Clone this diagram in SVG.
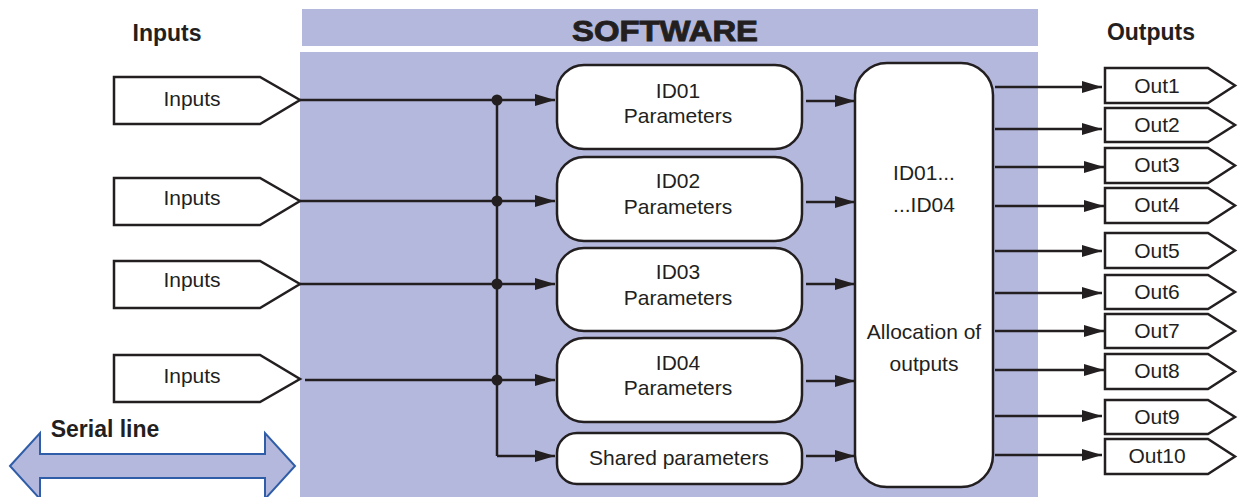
<svg xmlns="http://www.w3.org/2000/svg" width="1238" height="497" viewBox="0 0 1238 497">
<style>
.bg{fill:#b4b8dc}
.box{fill:#fff;stroke:#231f20;stroke-width:2.5}
.ln{fill:none;stroke:#231f20;stroke-width:2.5}
.t{font-family:"Liberation Sans",Arial,sans-serif;font-size:21px;fill:#231f20;text-anchor:middle}
.h{font-family:"Liberation Sans",Arial,sans-serif;font-size:23px;font-weight:bold;fill:#231f20;text-anchor:middle}
.dot{fill:#231f20}
</style>
<defs>
<marker id="ah" markerUnits="userSpaceOnUse" markerWidth="20" markerHeight="12" refX="20" refY="6" orient="auto">
<path d="M0,0 L20,6 L0,12 z" fill="#231f20"/>
</marker>
</defs>
<g id="background">
<rect class="bg" x="302" y="9" width="736" height="37"/>
<rect class="bg" x="300" y="52" width="738" height="445"/>
</g>
<g id="headers">
<text class="h" x="167" y="41">Inputs</text>
<text class="h" x="665" y="41" style="font-size:29px;font-weight:900" stroke="#231f20" stroke-width="0.9" textLength="186" lengthAdjust="spacingAndGlyphs">SOFTWARE</text>
<text class="h" x="1151" y="40">Outputs</text>
</g>
<g id="serial">
<path d="M10,466 L40,433 L40,454 L265,454 L265,433 L295,466 L265,499 L265,478 L40,478 L40,499 z" fill="#b4b8dc" stroke="#2f5da8" stroke-width="2"/>
<text class="h" x="105" y="437">Serial line</text>
</g>
<g id="in1"><path class="box" d="M114,77 L260,77 L300,100 L260,124 L114,124 z"/><text class="t" x="192" y="106">Inputs</text></g>
<g id="in2"><path class="box" d="M114,178 L260,178 L300,201 L260,225 L114,225 z"/><text class="t" x="192" y="205">Inputs</text></g>
<g id="in3"><path class="box" d="M114,261 L260,261 L300,284 L260,308 L114,308 z"/><text class="t" x="192" y="287">Inputs</text></g>
<g id="in4"><path class="box" d="M114,355 L260,355 L300,379 L260,402 L114,402 z"/><text class="t" x="192" y="383">Inputs</text></g>
<g id="id01"><rect class="box" x="557" y="65" width="245" height="84" rx="27"/><text class="t" x="678" y="98">ID01</text><text class="t" x="678" y="123">Parameters</text></g>
<g id="id02"><rect class="box" x="557" y="157" width="245" height="84" rx="27"/><text class="t" x="678" y="188">ID02</text><text class="t" x="678" y="214">Parameters</text></g>
<g id="id03"><rect class="box" x="557" y="248" width="245" height="83" rx="27"/><text class="t" x="678" y="279">ID03</text><text class="t" x="678" y="305">Parameters</text></g>
<g id="id04"><rect class="box" x="557" y="338" width="245" height="84" rx="27"/><text class="t" x="678" y="370">ID04</text><text class="t" x="678" y="395">Parameters</text></g>
<g id="shared"><rect class="box" x="557" y="433" width="245" height="51" rx="20"/><text class="t" x="679" y="465">Shared parameters</text></g>
<g id="alloc"><rect class="box" x="855" y="63" width="138" height="424" rx="32"/>
<text class="t" x="924" y="180">ID01...</text><text class="t" x="924" y="212">...ID04</text>
<text class="t" x="924" y="339">Allocation of</text><text class="t" x="924" y="371">outputs</text></g>
<g id="out1"><path class="box" d="M1105,68 L1208,68 L1235,85.5 L1208,103 L1105,103 z"/><text class="t" x="1157" y="93">Out1</text></g>
<g id="out2"><path class="box" d="M1105,108 L1208,108 L1235,125 L1208,142 L1105,142 z"/><text class="t" x="1157" y="132">Out2</text></g>
<g id="out3"><path class="box" d="M1105,148 L1208,148 L1235,165.5 L1208,183 L1105,183 z"/><text class="t" x="1157" y="172">Out3</text></g>
<g id="out4"><path class="box" d="M1105,188 L1208,188 L1235,205.5 L1208,223 L1105,223 z"/><text class="t" x="1157" y="212">Out4</text></g>
<g id="out5"><path class="box" d="M1105,233 L1208,233 L1235,250.5 L1208,268 L1105,268 z"/><text class="t" x="1157" y="258">Out5</text></g>
<g id="out6"><path class="box" d="M1105,275 L1208,275 L1235,292 L1208,309 L1105,309 z"/><text class="t" x="1157" y="299">Out6</text></g>
<g id="out7"><path class="box" d="M1105,314 L1208,314 L1235,331 L1208,348 L1105,348 z"/><text class="t" x="1157" y="338">Out7</text></g>
<g id="out8"><path class="box" d="M1105,354 L1208,354 L1235,371.5 L1208,389 L1105,389 z"/><text class="t" x="1157" y="378">Out8</text></g>
<g id="out9"><path class="box" d="M1105,400 L1208,400 L1235,417 L1208,434 L1105,434 z"/><text class="t" x="1157" y="424">Out9</text></g>
<g id="out10"><path class="box" d="M1105,439 L1208,439 L1235,456.5 L1208,474 L1105,474 z"/><text class="t" x="1157" y="463">Out10</text></g>
<g id="connectors">
<path class="ln" d="M300,100 L497,100 M300,201 L497,201 M300,284 L497,284 M305,380 L497,380 M497,100 L497,456"/>
<path class="ln" marker-end="url(#ah)" d="M497,100 L555,100"/>
<path class="ln" marker-end="url(#ah)" d="M497,201 L555,201"/>
<path class="ln" marker-end="url(#ah)" d="M497,284 L555,284"/>
<path class="ln" marker-end="url(#ah)" d="M497,380 L555,380"/>
<path class="ln" marker-end="url(#ah)" d="M497,456 L555,456"/>
<circle class="dot" cx="497" cy="100" r="5.5"/>
<circle class="dot" cx="497" cy="201" r="5.5"/>
<circle class="dot" cx="497" cy="284" r="5.5"/>
<circle class="dot" cx="497" cy="380" r="5.5"/>
<path class="ln" marker-end="url(#ah)" d="M806,101 L855,101"/>
<path class="ln" marker-end="url(#ah)" d="M806,202 L855,202"/>
<path class="ln" marker-end="url(#ah)" d="M806,284 L855,284"/>
<path class="ln" marker-end="url(#ah)" d="M806,381 L855,381"/>
<path class="ln" marker-end="url(#ah)" d="M806,456 L855,456"/>
<path class="ln" marker-end="url(#ah)" d="M995,87 L1102,87"/>
<path class="ln" marker-end="url(#ah)" d="M995,129 L1102,129"/>
<path class="ln" marker-end="url(#ah)" d="M995,167 L1104,167"/>
<path class="ln" marker-end="url(#ah)" d="M995,206 L1104,206"/>
<path class="ln" marker-end="url(#ah)" d="M995,251 L1102,251"/>
<path class="ln" marker-end="url(#ah)" d="M995,293 L1102,293"/>
<path class="ln" marker-end="url(#ah)" d="M995,331 L1104,331"/>
<path class="ln" marker-end="url(#ah)" d="M995,370 L1104,370"/>
<path class="ln" marker-end="url(#ah)" d="M995,416 L1102,416"/>
<path class="ln" marker-end="url(#ah)" d="M995,455 L1102,455"/>
</g>
</svg>
